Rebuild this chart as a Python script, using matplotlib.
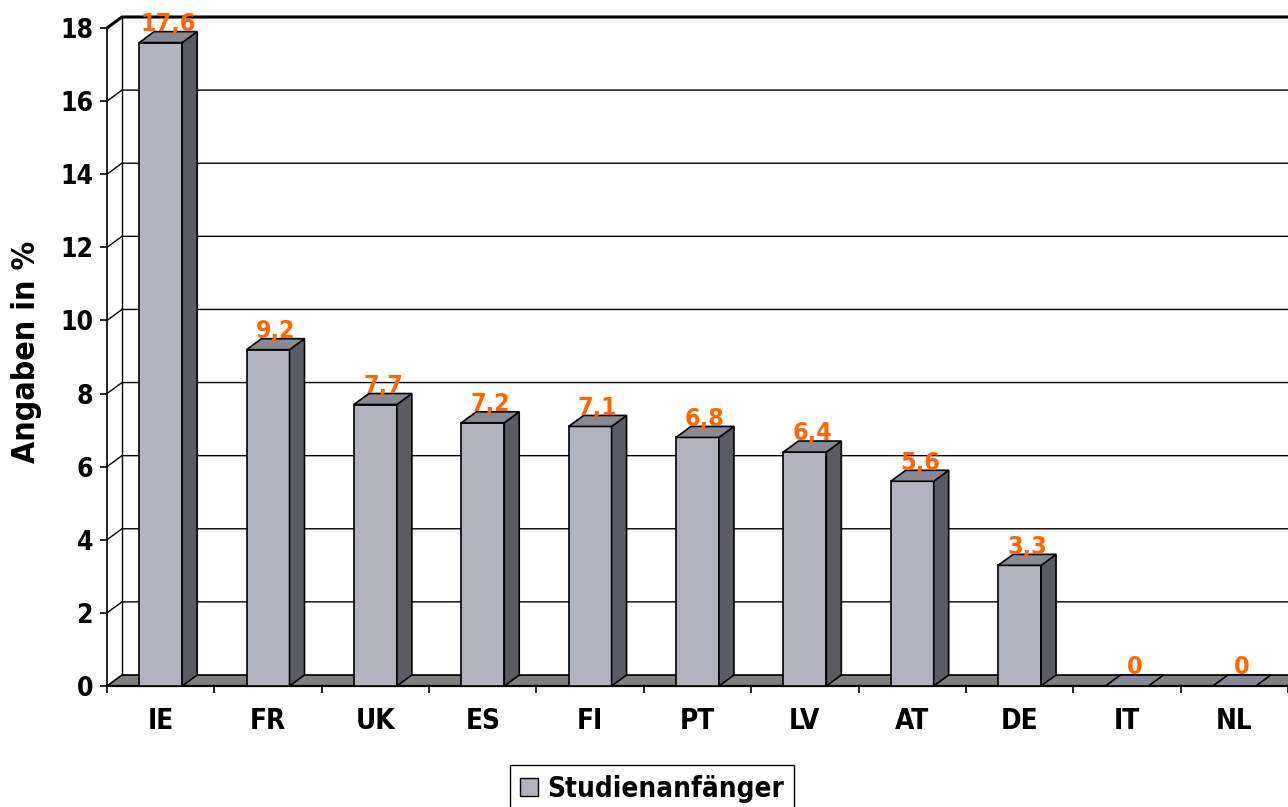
import matplotlib
matplotlib.use("Agg")
import matplotlib.pyplot as plt
from matplotlib.patches import Polygon, Patch

countries = ["IE", "FR", "UK", "ES", "FI", "PT", "LV", "AT", "DE", "IT", "NL"]
values = [17.6, 9.2, 7.7, 7.2, 7.1, 6.8, 6.4, 5.6, 3.3, 0, 0]
yticks = [0, 2, 4, 6, 8, 10, 12, 14, 16, 18]
series_name = "Studienanfänger"
ylabel = "Angaben in %"

front_col = "#b1b4bf"
side_col = "#5b5c63"
top_col = "#878a94"
floor_col = "#808080"
label_col = "#ff6600"

plt.rcParams["font.family"] = "DejaVu Sans"
plt.rcParams["font.stretch"] = "condensed"
plt.rcParams["font.weight"] = "bold"

fig = plt.figure(figsize=(12.88, 8.07), dpi=100)
# axes box = front plane of the plot (pixel positions)
ax = fig.add_axes([107 / 1288, 121 / 807, 1181 / 1288, 658 / 807])
xmax = 1181 / 107.5
ax.set_xlim(0, xmax)
ax.set_ylim(0, 18)

# depth offset of the 3d look, in data units
ddx = 15 / 107.5
ddy = 11 / 36.55
xend = len(countries) + 0.3

# floor
ax.add_patch(Polygon([(0, 0), (ddx, ddy), (xend + ddx, ddy), (xend, 0)],
                     closed=True, facecolor=floor_col, edgecolor="black",
                     lw=1.2, zorder=1, clip_on=False))

# back wall grid lines + left wall
for y in yticks[1:]:
    lw = 2.2 if y == yticks[-1] else 1.0
    ax.plot([0, ddx, xend + ddx], [y, y + ddy, y + ddy], color="black",
            lw=lw, zorder=1.5, clip_on=False, solid_capstyle="butt")
ax.plot([ddx, ddx], [ddy, yticks[-1] + ddy], color="black", lw=1.0,
        zorder=1.5, clip_on=False)

# bars
w = 0.2
for i, v in enumerate(values):
    x0 = i + 0.5 - w
    x1 = i + 0.5 + w
    if v > 0:
        ax.add_patch(Polygon([(x0, 0), (x0, v), (x1, v), (x1, 0)], closed=True,
                             facecolor=front_col, edgecolor="black", lw=1.2,
                             zorder=3, clip_on=False))
        ax.add_patch(Polygon([(x1, 0), (x1 + ddx, ddy), (x1 + ddx, v + ddy), (x1, v)],
                             closed=True, facecolor=side_col, edgecolor="black",
                             lw=1.2, zorder=3, clip_on=False))
    ax.add_patch(Polygon([(x0, v), (x0 + ddx, v + ddy), (x1 + ddx, v + ddy), (x1, v)],
                         closed=True, facecolor=top_col, edgecolor="black",
                         lw=1.2, zorder=3, clip_on=False))
    ax.text(i + 0.5 + ddx / 2, v + ddy + 0.02, ("%g" % v).replace(".", ","),
            ha="center", va="baseline", color=label_col, fontsize=18,
            fontweight="bold", zorder=4)

for s in ["top", "right"]:
    ax.spines[s].set_visible(False)
ax.spines["left"].set_linewidth(1.2)
ax.spines["bottom"].set_linewidth(1.6)
ax.spines["left"].set_zorder(2)
ax.spines["bottom"].set_zorder(2)

ax.set_yticks(yticks)
ax.set_yticklabels([str(t) for t in yticks], fontsize=19, fontweight="bold")
ax.tick_params(axis="y", length=5, width=1.2, pad=5)

ax.set_xticks(range(len(countries) + 1))
ax.set_xticklabels([])
ax.set_xticks([i + 0.5 for i in range(len(countries))], minor=True)
ax.set_xticklabels(countries, minor=True, fontsize=20, fontweight="bold")
ax.tick_params(axis="x", which="major", length=5, width=1.2)
ax.tick_params(axis="x", which="minor", length=0, pad=15)

fig.text(27 / 1288, 1 - 352 / 807, ylabel, rotation=90, ha="center", va="center",
         fontsize=23, fontweight="bold")

fig.legend(handles=[Patch(facecolor=front_col, edgecolor="black", label=series_name)],
           loc="upper left", bbox_to_anchor=(510 / 1288, 1 - 765 / 807),
           frameon=True, fancybox=False, edgecolor="black", framealpha=1,
           prop={"weight": "bold", "size": 20}, handlelength=0.65, handleheight=0.65,
           handletextpad=0.35, borderpad=0.35, borderaxespad=0)

fig.savefig("out.png", dpi=100)
